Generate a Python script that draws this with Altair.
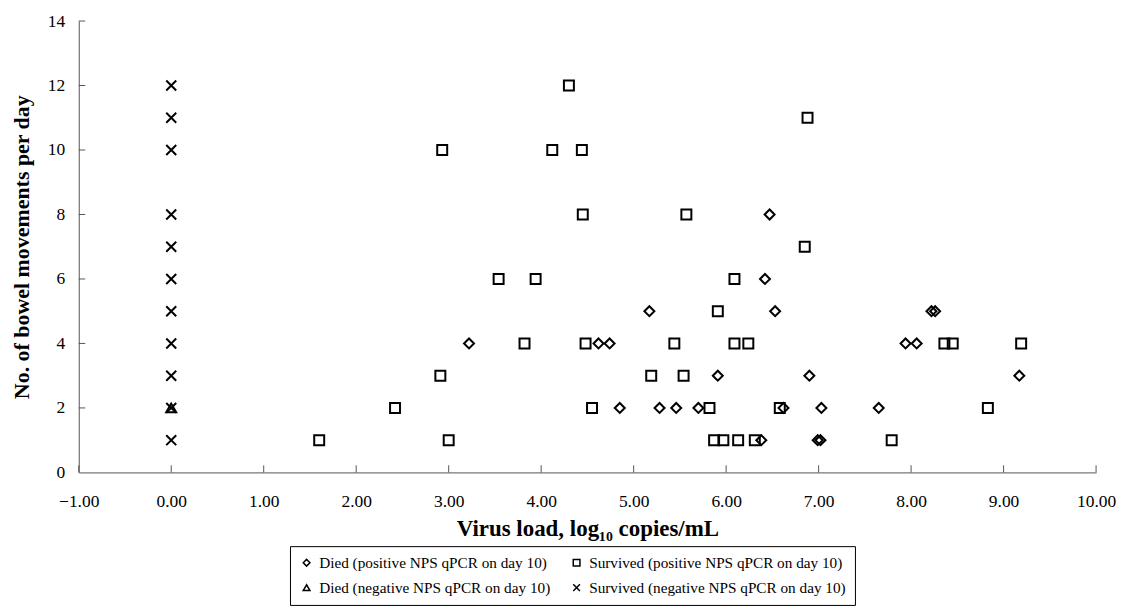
import altair as alt
import pandas as pd

# Died (positive NPS qPCR on day 10) - diamonds
died_pos_x = [3.22, 4.62, 4.74, 4.85, 5.17, 5.28, 5.46, 5.70, 5.91, 6.38, 6.42, 6.47,
              6.53, 6.62, 6.90, 6.99, 7.02, 7.03, 7.65, 7.94, 8.06, 8.22, 8.26, 9.17]
died_pos_y = [4, 4, 4, 2, 5, 2, 2, 2, 3, 1, 6, 8,
              5, 2, 3, 1, 1, 2, 2, 4, 4, 5, 5, 3]

# Survived (positive NPS qPCR on day 10) - squares
surv_pos_x = [1.60, 2.42, 2.91, 2.93, 3.00, 3.54, 3.82, 3.94, 4.12, 4.30, 4.44, 4.45,
              4.48, 4.55, 5.19, 5.44, 5.54, 5.57, 5.82, 5.87, 5.91, 5.97, 6.09, 6.09,
              6.13, 6.24, 6.31, 6.58, 6.85, 6.88, 7.79, 8.36, 8.45, 8.83, 9.19]
surv_pos_y = [1, 2, 3, 10, 1, 6, 4, 6, 10, 12, 10, 8,
              4, 2, 3, 4, 3, 8, 2, 1, 5, 1, 6, 4,
              1, 4, 1, 2, 7, 11, 1, 4, 4, 2, 4]

# Died (negative NPS qPCR on day 10) - triangle
died_neg_x = [0.0]
died_neg_y = [2]

# Survived (negative NPS qPCR on day 10) - crosses
surv_neg_x = [0.0] * 11
surv_neg_y = [1, 2, 3, 4, 5, 6, 7, 8, 10, 11, 12]

g_dp = "Died (positive NPS qPCR on day 10)"
g_sp = "Survived (positive NPS qPCR on day 10)"
g_dn = "Died (negative NPS qPCR on day 10)"
g_sn = "Survived (negative NPS qPCR on day 10)"

x_ticks = [-1, 0, 1, 2, 3, 4, 5, 6, 7, 8, 9, 10]
y_ticks = [0, 2, 4, 6, 8, 10, 12, 14]

rows = []
for g, xs, ys in [(g_dp, died_pos_x, died_pos_y),
                  (g_sp, surv_pos_x, surv_pos_y),
                  (g_dn, died_neg_x, died_neg_y),
                  (g_sn, surv_neg_x, surv_neg_y)]:
    for xv, yv in zip(xs, ys):
        rows.append({"x": xv, "y": yv, "group": g})
df = pd.DataFrame(rows)

xtick_df = pd.DataFrame({"x": x_ticks, "y0": 0.0, "y1": 0.22})
ytick_df = pd.DataFrame({"y": y_ticks[1:], "x0": -1.0, "x1": -0.93})

FONT = "Liberation Serif"
xscale = alt.Scale(domain=[-1, 10], nice=False, zero=False)
yscale = alt.Scale(domain=[0, 14], nice=False)

cross_path = "M-1,-1L1,1M1,-1L-1,1"

# legend fills column-major: order so rows read DP, SP / DN, SN
legend_domain = [g_dp, g_dn, g_sp, g_sn]
legend_range = ["diamond", "triangle-up", "square", cross_path]

points = alt.Chart(df).mark_point(filled=False, strokeWidth=2, size=100, color="black", opacity=1).encode(
    x=alt.X("x:Q", scale=xscale,
            axis=alt.Axis(values=x_ticks, format=".2f", ticks=False, grid=False,
                          labelPadding=20, labelFlush=False,
                          title="Virus load, log₁₀ copies/mL", titleFontSize=23,
                          titleFontWeight="bold", titlePadding=8)),
    y=alt.Y("y:Q", scale=yscale,
            axis=alt.Axis(values=y_ticks, ticks=False, grid=False,
                          labelPadding=14,
                          title="No. of bowel movements per day", titleFontSize=22,
                          titleFontWeight="bold", titlePadding=14)),
    shape=alt.Shape("group:N",
                    scale=alt.Scale(domain=legend_domain, range=legend_range),
                    legend=alt.Legend(title=None, orient="none", legendX=212, legendY=527,
                                      columns=2, columnPadding=18, rowPadding=9,
                                      labelFont=FONT, labelFontSize=15.3, labelColor="black",
                                      labelLimit=500,
                                      symbolSize=45, symbolStrokeWidth=1.5,
                                      symbolStrokeColor="black", symbolFillColor="transparent",
                                      strokeColor="black", padding=9, labelOffset=5)),
)

xticks = alt.Chart(xtick_df).mark_rule(color="#555555", strokeWidth=1).encode(
    x=alt.X("x:Q", scale=xscale), y=alt.Y("y0:Q", scale=yscale), y2="y1:Q"
)
yticks = alt.Chart(ytick_df).mark_rule(color="#555555", strokeWidth=1).encode(
    y=alt.Y("y:Q", scale=yscale), x=alt.X("x0:Q", scale=xscale), x2="x1:Q"
)

chart = alt.layer(points, xticks, yticks).properties(
    width=1021, height=453,
    autosize=alt.AutoSizeParams(type="none"),
    padding={"left": 71, "top": 12, "right": 20, "bottom": 140},
    background="white",
).configure(font=FONT).configure_view(stroke=None).configure_axis(
    labelFont=FONT, labelFontSize=17.5, labelColor="black",
    titleFont=FONT, titleColor="black", domainColor="#555555"
)

chart.save("out.html", embed_options={"renderer": "svg", "actions": False})
